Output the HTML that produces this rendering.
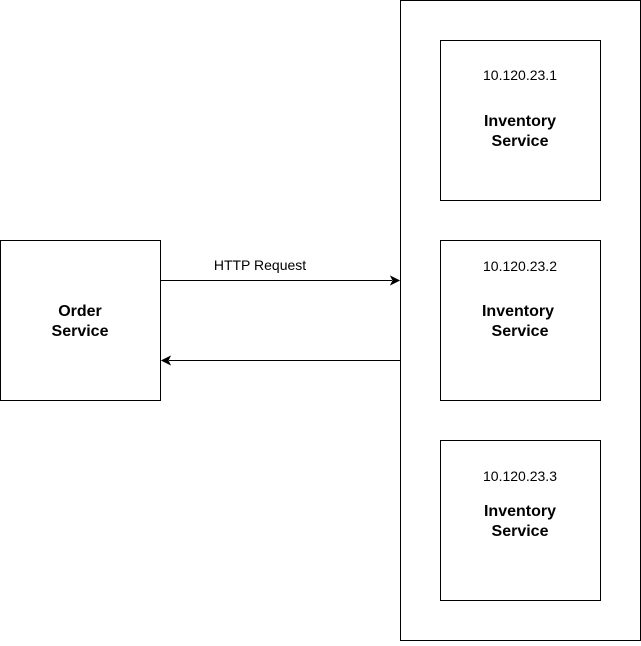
<!DOCTYPE html>
<html><head><meta charset="utf-8"><style>html,body{margin:0;padding:0;background:#fff}</style></head><body>
<svg width="641" height="641" xmlns="http://www.w3.org/2000/svg" font-family="Liberation Sans, Arial, sans-serif">
<rect x="0" y="0" width="641" height="641" fill="#fff"/>
<g fill="#fff" stroke="#000" stroke-width="1">
<rect x="0.5" y="240.5" width="160" height="160"/>
<rect x="400.5" y="0.5" width="240" height="640"/>
<rect x="440.5" y="40.5" width="160" height="160"/>
<rect x="440.5" y="240.5" width="160" height="160"/>
<rect x="440.5" y="440.5" width="160" height="160"/>
</g>
<line x1="160.5" y1="280.5" x2="392" y2="280.5" stroke="#000"/>
<path d="M399,280.5 L391,276.5 L393,280.5 L391,284.5 Z" fill="#000" stroke="#000"/>
<line x1="400.5" y1="360.5" x2="169" y2="360.5" stroke="#000"/>
<path d="M162,360.5 L170,356.5 L168,360.5 L170,364.5 Z" fill="#000" stroke="#000"/>
<text x="260" y="270" font-size="14" text-anchor="middle">HTTP Request</text>
<g font-size="16" font-weight="bold" text-anchor="middle">
<text x="80" y="316">Order</text><text x="80" y="336">Service</text>
<text x="520" y="126">Inventory</text><text x="520" y="146">Service</text>
<text x="518" y="316">Inventory</text><text x="520" y="336">Service</text>
<text x="520" y="516">Inventory</text><text x="520" y="536">Service</text>
</g>
<g font-size="14" text-anchor="middle">
<text x="520" y="80">10.120.23.1</text>
<text x="520" y="271">10.120.23.2</text>
<text x="520" y="481">10.120.23.3</text>
</g>
</svg>
</body></html>
